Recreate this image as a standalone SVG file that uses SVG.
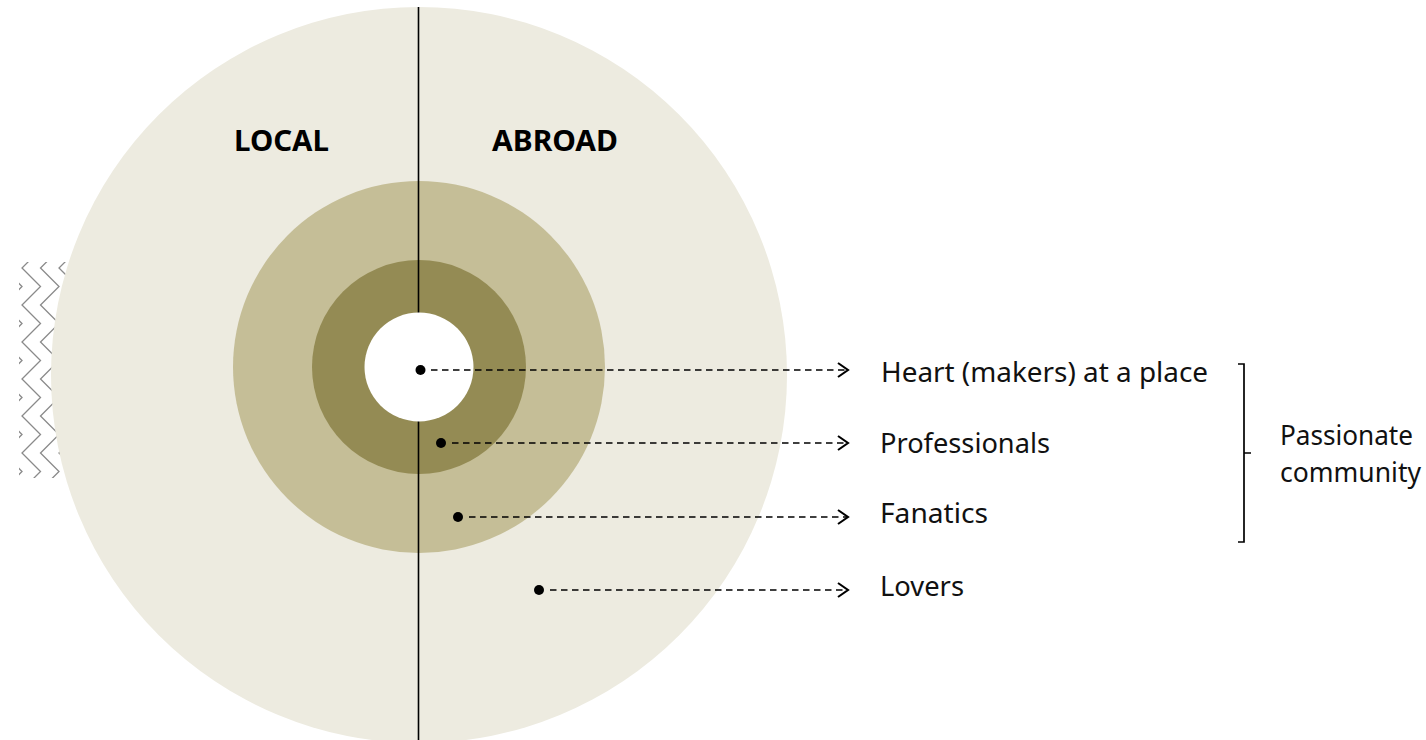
<svg xmlns="http://www.w3.org/2000/svg" xmlns:xlink="http://www.w3.org/1999/xlink" width="1426" height="740" viewBox="0 0 1426 740">
<style>
text{font-family:"Noto Sans","DejaVu Sans",sans-serif;fill:#111;font-size:27px}
.head{font-weight:700;font-size:28px;fill:#000}
.zig{fill:none;stroke:#8a8a8a;stroke-width:1.3}
.lead{fill:none;stroke:#000;stroke-width:1.7;stroke-dasharray:6.5 4.5}
.head-open{fill:none;stroke:#000;stroke-width:2.1}
.dot{fill:#000}
</style>
<defs>
<clipPath id="zc"><rect x="19" y="262" width="50" height="216"/></clipPath>
<path id="col" class="zig" d="M18.5 249.5L0 268L18.5 286.5L0 305L18.5 323.5L0 342L18.5 360.5L0 379L18.5 397.5L0 416L18.5 434.5L0 453L18.5 471.5L0 490"/>
<marker id="arr" markerUnits="userSpaceOnUse" markerWidth="14" markerHeight="18" refX="11" refY="8" orient="auto"><path class="head-open" d="M1 1L11 8L1 15"/></marker>
</defs>
<rect width="1426" height="740" fill="#fff"/>
<g id="texture" clip-path="url(#zc)">
<use xlink:href="#col" href="#col" x="3.5"/><use xlink:href="#col" href="#col" x="22"/><use xlink:href="#col" href="#col" x="40.5"/><use xlink:href="#col" href="#col" x="59"/>
</g>
<g id="ring-lovers"><circle cx="419" cy="375" r="368" fill="#edebe0"/></g>
<g id="ring-fanatics"><circle cx="419" cy="367" r="186" fill="#c5be97"/></g>
<g id="ring-professionals"><circle cx="419" cy="367" r="107" fill="#948b54"/></g>
<line id="divider" x1="418.5" y1="7" x2="418.5" y2="740" stroke="#000" stroke-width="1.6"/>
<g id="ring-heart"><circle cx="419" cy="367" r="54.5" fill="#fff"/></g>
<g id="label-local"><text class="head" x="234" y="151" textLength="95" lengthAdjust="spacingAndGlyphs">LOCAL</text></g>
<g id="label-abroad"><text class="head" x="492" y="151" textLength="126" lengthAdjust="spacingAndGlyphs">ABROAD</text></g>
<g id="connectors">
<line class="lead" x1="431" y1="370" x2="848" y2="370" marker-end="url(#arr)"/>
<line class="lead" x1="452" y1="443" x2="848" y2="443" marker-end="url(#arr)"/>
<line class="lead" x1="469" y1="517" x2="848" y2="517" marker-end="url(#arr)"/>
<line class="lead" x1="550" y1="590" x2="848" y2="590" marker-end="url(#arr)"/>
<path id="bracket" d="M1238 364H1244V542H1238M1244 453H1251" fill="none" stroke="#000" stroke-width="1.7"/>
</g>
<circle class="dot" cx="420.5" cy="370" r="5"/><circle class="dot" cx="441" cy="443" r="5"/><circle class="dot" cx="458" cy="517" r="5"/><circle class="dot" cx="539" cy="590" r="5"/>
<g id="label-heart"><text x="881" y="382" textLength="327" lengthAdjust="spacingAndGlyphs">Heart (makers) at a place</text></g>
<g id="label-professionals"><text x="880" y="453" textLength="170" lengthAdjust="spacingAndGlyphs">Professionals</text></g>
<g id="label-fanatics"><text x="880" y="523" textLength="108" lengthAdjust="spacingAndGlyphs">Fanatics</text></g>
<g id="label-lovers"><text x="880" y="596" textLength="84" lengthAdjust="spacingAndGlyphs">Lovers</text></g>
<g id="label-community"><text x="1280" y="445" textLength="133" lengthAdjust="spacingAndGlyphs">Passionate</text><text x="1280" y="482" textLength="141" lengthAdjust="spacingAndGlyphs">community</text></g>
</svg>
